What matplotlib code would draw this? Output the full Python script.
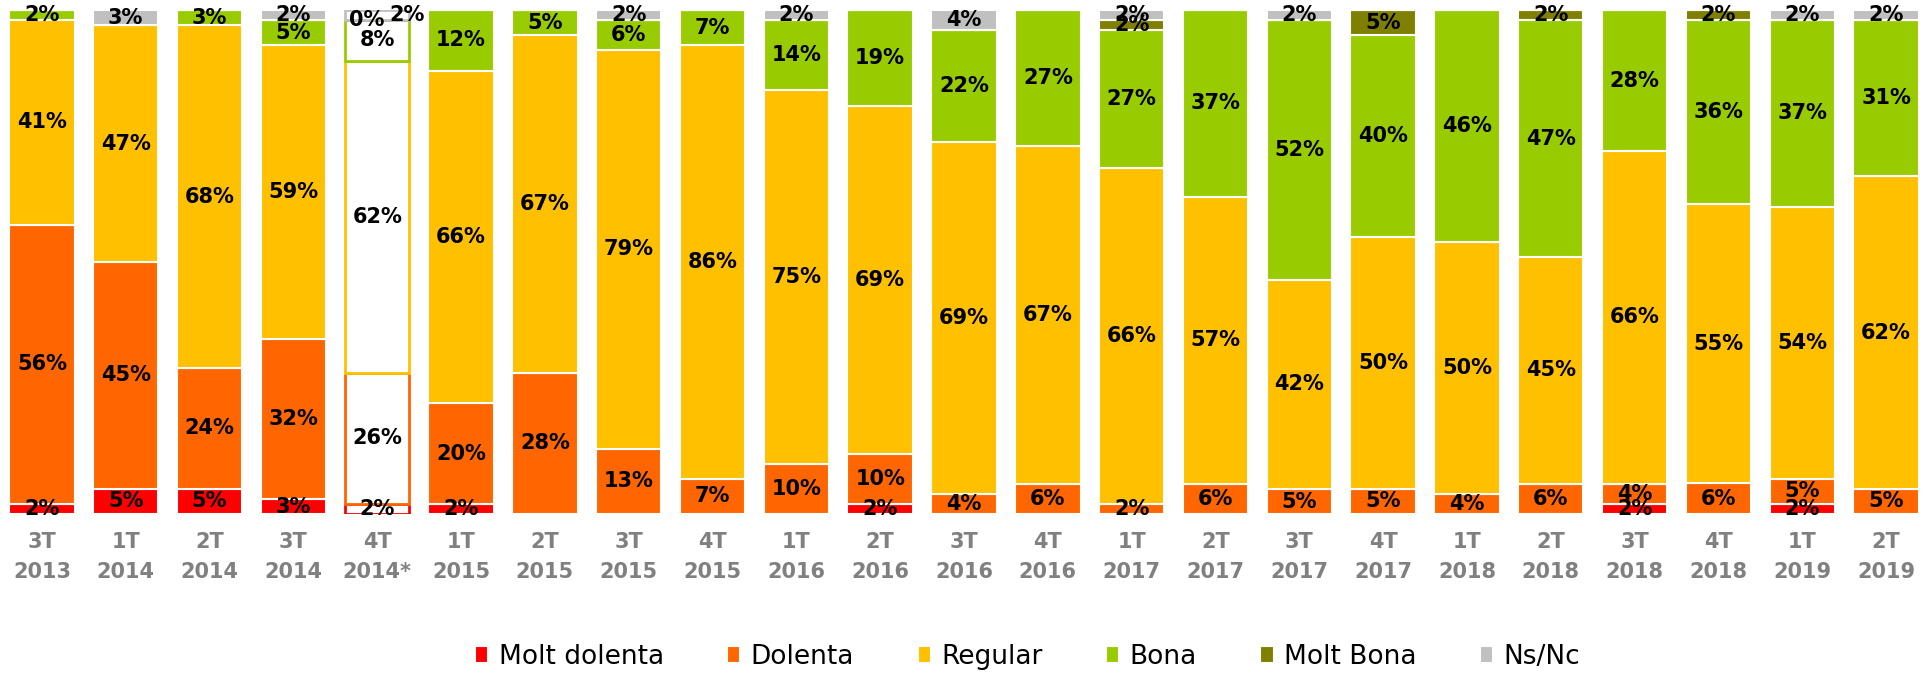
import matplotlib.pyplot as plt
import numpy as np

# Trimestres
quarters = ["3T\n2013", "1T\n2014", "2T\n2014", "3T\n2014", "4T\n2014*",
            "1T\n2015", "2T\n2015", "3T\n2015", "4T\n2015",
            "1T\n2016", "2T\n2016", "3T\n2016", "4T\n2016",
            "1T\n2017", "2T\n2017", "3T\n2017", "4T\n2017",
            "1T\n2018", "2T\n2018", "3T\n2018", "4T\n2018",
            "1T\n2019", "2T\n2019"]

# Valeurs (%) - None = pas de segment
molt_dolenta = [2, 5, 5, 3, 2, 2, None, None, None, None, 2, None, None,
                None, None, None, None, None, None, 2, None, 2, None]
dolenta = [56, 45, 24, 32, 26, 20, 28, 13, 7, 10, 10, 4, 6,
           2, 6, 5, 5, 4, 6, 4, 6, 5, 5]
regular = [41, 47, 68, 59, 62, 66, 67, 79, 86, 75, 69, 69, 67,
           66, 57, 42, 50, 50, 45, 66, 55, 54, 62]
bona = [2, None, 3, 5, 8, 12, 5, 6, 7, 14, 19, 22, 27,
        27, 37, 52, 40, 46, 47, 28, 36, 37, 31]
molt_bona = [None, None, None, None, 0, None, None, None, None, None, None, None, None,
             2, None, None, 5, None, 2, None, 2, None, None]
ns_nc = [None, 3, None, 2, 2, None, None, 2, None, 2, None, 4, None,
         2, None, 2, None, None, None, None, None, 2, 2]

series = [("Molt dolenta", molt_dolenta, "#FF0000"),
          ("Dolenta", dolenta, "#FF6600"),
          ("Regular", regular, "#FFC000"),
          ("Bona", bona, "#99CC00"),
          ("Molt Bona", molt_bona, "#808000"),
          ("Ns/Nc", ns_nc, "#C0C0C0")]

special = 4  # 4T 2014* : barre vide avec bord coloré

vals = np.array([[0 if v is None else v for v in s[1]] for s in series], dtype=float)
totals = vals.sum(axis=0)
shares = vals / totals * 100  # 100% empilé

fig = plt.figure(figsize=(19.28, 6.75), dpi=100)
ax = fig.add_axes([0, 0.2385, 1, 0.7465])
x = np.arange(len(quarters))
bottom = np.zeros(len(quarters))
W = 0.78

for k, (name, raw, color) in enumerate(series):
    fc = [("white" if i == special else color) for i in x]
    ax.bar(x, shares[k], W, bottom=bottom, color=fc,
           edgecolor="white", linewidth=1.5, label=name)
    # bord coloré pour la barre spéciale
    if raw[special] is not None:
        ax.bar(special, max(shares[k][special], 0.3), W - 0.02, bottom=bottom[special],
               color="none", edgecolor=color, linewidth=2)
    for i, v in enumerate(raw):
        if v is None:
            continue
        dx = 0
        if i == special and name == "Molt Bona":
            dx = -0.12
        if i == special and name == "Ns/Nc":
            dx = 0.36
        ax.text(i + dx, bottom[i] + shares[k][i] / 2, f"{v}%", ha="center", va="center",
                fontsize=15, fontweight="bold", color="black")
    bottom += shares[k]

ax.set_xlim(-0.5, len(quarters) - 0.5)
ax.set_ylim(0, 100)
ax.set_xticks(x)
ax.set_xticklabels(quarters, fontsize=15, fontweight="bold", color="#808080", linespacing=1.6)
ax.tick_params(axis="x", length=0, pad=13)
ax.set_yticks([])
for sp in ax.spines.values():
    sp.set_visible(False)

handles, labels = ax.get_legend_handles_labels()
fig.legend(handles[:6], labels[:6], loc="center", bbox_to_anchor=(0.533, 0.027), ncol=6,
           frameon=False, fontsize=19, handlelength=0.5, handleheight=0.6,
           handletextpad=0.4, columnspacing=2.4)

plt.savefig("out.png")
